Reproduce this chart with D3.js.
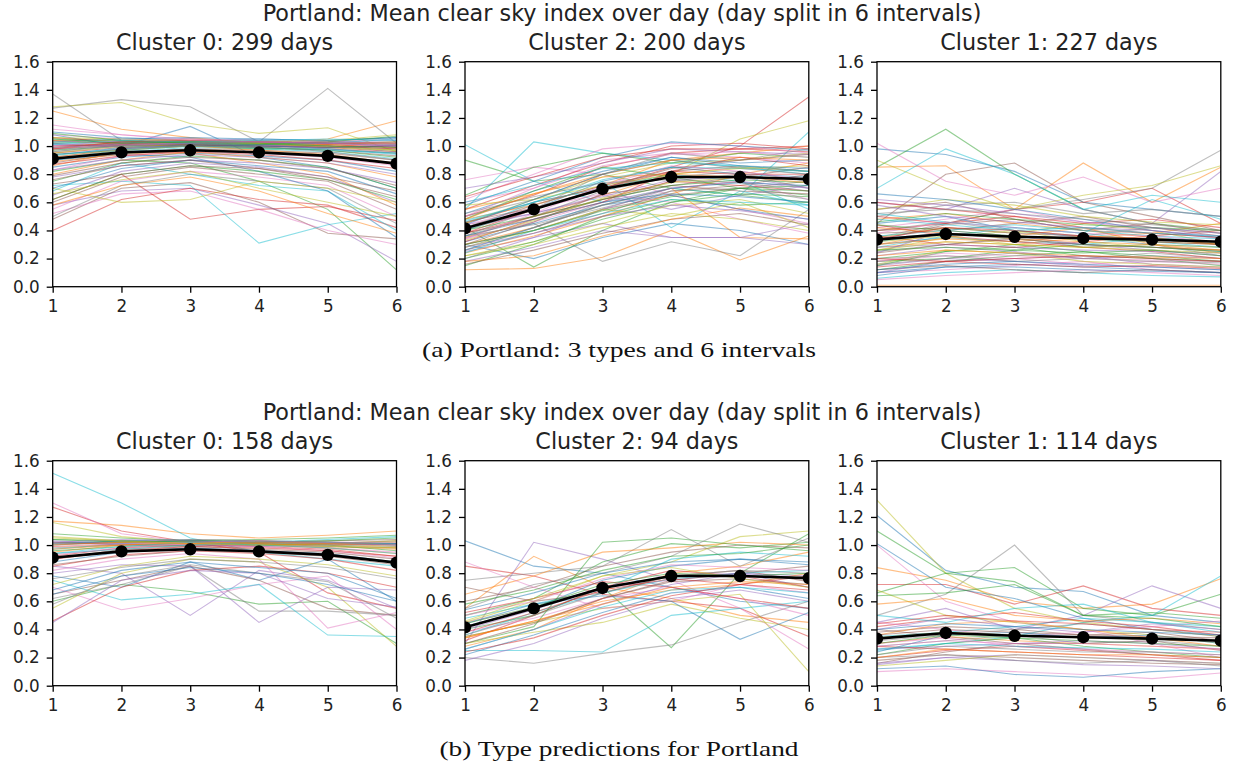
<!DOCTYPE html>
<html>
<head>
<meta charset="utf-8">
<script src="https://cdn.jsdelivr.net/npm/d3@7"></script>
<style>
  html, body { margin: 0; padding: 0; background: #fff; }
  svg { display: block; }
  .tick text { font-family: "DejaVu Sans", sans-serif; font-size: 16.8px; fill: #222; }
  .ttl { font-family: "DejaVu Sans", sans-serif; font-size: 22.3px; fill: #222; }
  .sup { font-family: "DejaVu Sans", sans-serif; font-size: 22.3px; fill: #222; }
  .cap { font-family: "Liberation Serif", "DejaVu Serif", serif; font-size: 21px; fill: #111; }
</style>
</head>
<body>
<svg id="chart" width="1236" height="766"></svg>
<script>
// ---------- data ----------
const xTicks = [1, 2, 3, 4, 5, 6];
const yTicks = [0, 0.2, 0.4, 0.6, 0.8, 1.0, 1.2, 1.4, 1.6];

const suptitle = "Portland: Mean clear sky index over day (day split in 6 intervals)";
const captions = ["(a) Portland: 3 types and 6 intervals", "(b) Type predictions for Portland"];
const titlesTop = ["Cluster 0: 299 days", "Cluster 2: 200 days", "Cluster 1: 227 days"];
const titlesBottom = ["Cluster 0: 158 days", "Cluster 2: 94 days", "Cluster 1: 114 days"];

const meanC0 = [0.91, 0.955, 0.97, 0.955, 0.93, 0.875];
const meanC2 = [0.415, 0.55, 0.695, 0.78, 0.78, 0.765];
const meanC1 = [0.335, 0.375, 0.355, 0.345, 0.335, 0.32];

// (a) Portland, cluster 0 (sample of daily profiles)
const portlandC0 = [
  [1.08,1.00,1.14,0.92,0.85,0.70],[1.25,1.12,1.06,1.02,1.05,1.18],[0.82,0.90,0.88,0.75,0.55,0.12],
  [0.62,0.80,0.48,0.55,0.57,0.47],[0.58,0.68,0.70,0.58,0.45,0.18],[0.48,0.70,0.74,0.60,0.38,0.34],
  [0.52,0.66,0.68,0.55,0.40,0.30],[1.27,1.33,1.28,1.03,1.41,1.02],[1.28,1.31,1.16,1.09,1.13,0.96],
  [0.72,0.75,0.72,0.31,0.44,0.52],[1.02,1.03,1.04,1.03,1.02,1.00],[0.98,1.01,1.02,1.02,1.01,0.99],
  [1.05,1.04,1.03,1.04,1.03,1.02],[0.95,0.99,1.01,1.00,0.99,0.96],[1.00,1.02,1.03,1.02,1.03,1.04],
  [0.92,0.98,1.00,0.99,0.97,0.93],[1.08,1.05,1.04,1.03,1.02,1.01],[1.37,1.04,1.02,1.01,1.00,0.98],
  [1.03,1.02,1.03,1.02,1.01,1.03],[0.90,0.96,0.99,0.98,0.96,0.91],[1.10,1.06,1.04,1.05,1.04,1.06],
  [0.99,1.03,1.05,1.03,1.02,1.00],[0.94,0.97,1.00,0.98,0.98,0.95],[1.06,1.03,1.02,1.00,1.01,0.99],
  [1.01,1.00,1.01,1.00,0.99,1.01],[0.88,0.95,0.98,0.97,0.95,0.90],[1.12,1.08,1.05,1.02,1.03,1.05],
  [0.96,1.01,1.03,1.01,1.00,0.97],[1.04,1.04,1.02,1.03,1.04,1.08],[0.93,0.99,1.02,1.00,0.98,0.94],
  [0.85,0.92,0.95,0.93,0.90,0.82],[0.80,0.90,0.96,0.92,0.88,0.78],[0.75,0.88,0.93,0.90,0.85,0.70],
  [0.40,0.62,0.70,0.62,0.58,0.42],[0.65,0.82,0.88,0.85,0.78,0.60],[0.60,0.78,0.85,0.80,0.75,0.55],
  [0.55,0.75,0.82,0.78,0.72,0.50],[0.50,0.72,0.80,0.75,0.70,0.45],[0.70,0.60,0.62,0.75,0.70,0.60],
  [0.68,0.88,0.80,0.72,0.68,0.40],[0.90,0.94,0.92,0.82,0.68,0.35],[0.86,0.96,0.95,0.88,0.80,0.58],
  [0.97,1.00,1.01,0.99,0.97,0.92],[1.00,1.01,1.00,0.99,1.00,0.98],[0.78,0.86,0.90,0.88,0.84,0.74],
  [1.02,0.99,1.00,1.01,1.02,1.03],[0.83,0.93,0.97,0.95,0.92,0.86],[0.99,1.02,1.04,1.02,1.00,0.96],
  [0.95,1.00,1.01,1.02,0.99,0.97],[1.01,1.03,1.02,1.01,1.02,1.05],[0.70,0.84,0.90,0.86,0.82,0.66],
  [0.92,0.97,1.00,0.97,0.94,0.88],[0.62,0.80,0.86,0.82,0.76,0.62],[1.04,1.02,1.01,1.00,0.99,1.00],
  [0.98,1.00,1.02,1.01,0.98,0.95],[0.76,0.86,0.90,0.84,0.78,0.68],
  [1.00,1.04,1.05,1.04,1.03,1.02],[0.97,1.02,1.03,1.03,1.02,1.01],[1.06,1.05,1.04,1.02,1.00,0.97],
  [0.91,0.97,1.00,0.99,0.97,0.95],[1.03,1.05,1.06,1.05,1.04,1.06],[0.89,0.94,0.97,0.96,0.93,0.87],
  [1.09,1.04,1.02,1.01,1.03,1.07],[0.98,1.03,1.04,1.03,1.02,1.02],[0.83,0.90,0.94,0.92,0.88,0.80],
  [0.73,0.80,0.86,0.84,0.76,0.64],[1.15,1.08,1.04,1.03,1.02,1.00],[0.96,1.00,1.02,1.00,0.96,0.90],
  [0.66,0.76,0.82,0.70,0.60,0.50],[1.02,1.04,1.03,1.04,1.05,1.04],[0.94,0.98,1.01,1.00,0.99,1.00],
  [0.58,0.72,0.78,0.68,0.52,0.38],[1.05,1.02,1.03,1.02,1.00,0.99],[0.87,0.93,0.96,0.94,0.90,0.84],
  [0.99,1.01,1.02,1.03,1.02,1.00],[0.79,0.88,0.92,0.90,0.84,0.72]
];
// (a) Portland, cluster 2
const portlandC2 = [
  [0.30,0.20,0.35,0.45,0.40,0.30],[0.12,0.13,0.21,0.40,0.19,0.36],[0.90,0.75,0.80,0.70,0.65,0.60],
  [0.45,0.60,0.70,0.85,1.00,1.35],[0.25,0.35,0.45,0.35,0.35,0.45],[0.30,0.40,0.55,0.65,0.70,0.75],
  [0.76,0.85,0.80,0.65,0.55,0.45],[0.35,0.45,0.18,0.32,0.22,0.55],[0.40,0.55,0.70,0.80,1.05,1.18],
  [1.01,0.75,0.60,0.70,0.65,1.10],[0.40,0.55,0.75,0.85,0.80,0.78],[0.35,0.50,0.65,0.80,0.85,0.82],
  [0.42,0.14,0.40,0.60,0.70,0.65],[0.50,0.65,0.85,0.95,0.98,0.96],[0.20,0.35,0.55,0.70,0.75,0.70],
  [0.38,0.48,0.62,0.72,0.78,0.85],[0.60,0.70,0.90,0.95,0.92,0.88],[0.28,0.42,0.60,0.75,0.80,0.70],
  [0.45,0.62,0.78,0.88,0.90,0.95],[0.55,1.03,0.95,0.90,0.85,0.80],[0.32,0.45,0.58,0.65,0.55,0.48],
  [0.48,0.58,0.72,0.90,0.95,1.00],[0.15,0.30,0.50,0.62,0.58,0.60],[0.55,0.72,0.88,1.00,1.02,0.98],
  [0.44,0.52,0.65,0.55,0.65,0.72],[0.26,0.38,0.52,0.68,0.72,0.80],[0.62,0.80,0.98,1.02,1.00,0.95],
  [0.36,0.50,0.68,0.78,0.82,0.75],[0.22,0.32,0.45,0.58,0.62,0.52],[0.46,0.60,0.75,0.42,0.68,0.58],
  [0.52,0.68,0.82,0.92,0.88,0.90],[0.30,0.42,0.58,0.70,0.35,0.34],[0.65,0.85,0.95,0.88,0.95,0.92],
  [0.38,0.50,0.62,0.75,0.72,0.68],[0.18,0.28,0.40,0.35,0.35,0.30],[0.42,0.58,0.72,0.82,0.86,0.82],
  [0.34,0.46,0.60,0.70,0.75,0.62],[0.50,0.62,0.80,0.95,0.90,0.98],[0.28,0.40,0.55,0.50,0.60,0.42],
  [0.40,0.60,0.70,0.80,0.75,0.55],[0.58,0.75,0.92,1.03,1.00,0.97],[0.24,0.36,0.50,0.66,0.80,0.88],
  [0.48,0.68,0.85,0.78,0.70,0.72],[0.32,0.48,0.60,0.82,0.92,0.86],[0.70,0.78,0.88,0.98,0.96,0.94],
  [0.16,0.26,0.38,0.48,0.52,0.44],[0.44,0.56,0.66,0.60,0.48,0.38],[0.36,0.55,0.80,0.90,0.84,0.80],
  [0.33,0.47,0.63,0.74,0.78,0.76],[0.47,0.60,0.76,0.85,0.84,0.82],[0.26,0.42,0.58,0.70,0.74,0.72],
  [0.55,0.66,0.80,0.90,0.92,0.90],[0.20,0.32,0.48,0.60,0.66,0.64],[0.38,0.55,0.70,0.82,0.80,0.80],
  [0.42,0.52,0.64,0.76,0.78,0.70],[0.30,0.46,0.66,0.72,0.68,0.66],[0.50,0.70,0.86,0.94,0.96,0.92],
  [0.36,0.44,0.56,0.68,0.70,0.62],[0.58,0.62,0.72,0.80,0.84,0.86],[0.24,0.40,0.52,0.62,0.60,0.58],
  [0.44,0.62,0.80,0.92,0.86,0.84],[0.18,0.22,0.36,0.48,0.56,0.50],[0.40,0.50,0.62,0.72,0.76,0.74],
  [0.64,0.78,0.92,0.98,0.98,1.00],[0.28,0.38,0.50,0.58,0.54,0.48],[0.46,0.56,0.70,0.84,0.90,0.94],
  [0.34,0.52,0.72,0.86,0.82,0.76],[0.52,0.64,0.74,0.76,0.74,0.68],[0.22,0.30,0.42,0.52,0.48,0.40],
  [0.60,0.72,0.84,0.88,0.86,0.82],[0.36,0.48,0.60,0.66,0.64,0.60],[0.48,0.66,0.78,0.80,0.78,0.74],
  [0.30,0.40,0.54,0.64,0.70,0.68]
];
// (a) Portland, cluster 1
const portlandC1 = [
  [0.98,0.94,0.82,0.60,0.55,0.50],[0.85,0.86,0.55,0.88,0.60,0.85],[0.85,1.12,0.80,0.55,0.45,0.40],
  [0.50,0.45,0.55,0.60,0.70,0.45],[0.60,0.55,0.70,0.55,0.45,0.82],[0.45,0.80,0.88,0.60,0.50,0.40],
  [1.02,0.75,0.65,0.78,0.60,0.70],[0.35,0.45,0.55,0.62,0.70,0.97],[0.90,0.70,0.55,0.65,0.72,0.86],
  [0.70,0.98,0.80,0.55,0.65,0.60],[0.30,0.35,0.32,0.30,0.28,0.25],[0.01,0.01,0.01,0.01,0.01,0.01],
  [0.20,0.25,0.28,0.22,0.20,0.18],[0.40,0.45,0.50,0.42,0.38,0.35],[0.15,0.20,0.18,0.15,0.14,0.12],
  [0.55,0.60,0.48,0.40,0.45,0.38],[0.10,0.12,0.15,0.18,0.12,0.10],[0.25,0.30,0.35,0.28,0.30,0.22],
  [0.35,0.42,0.38,0.45,0.40,0.30],[0.06,0.10,0.12,0.10,0.08,0.07],[0.45,0.50,0.40,0.35,0.30,0.28],
  [0.28,0.32,0.30,0.35,0.38,0.45],[0.12,0.18,0.22,0.25,0.20,0.15],[0.60,0.55,0.50,0.45,0.48,0.42],
  [0.22,0.28,0.25,0.20,0.22,0.20],[0.38,0.40,0.45,0.50,0.42,0.36],[0.18,0.22,0.20,0.16,0.18,0.16],
  [0.50,0.58,0.60,0.52,0.55,0.50],[0.26,0.35,0.40,0.32,0.28,0.26],[0.32,0.38,0.34,0.30,0.35,0.32],
  [0.08,0.14,0.16,0.14,0.12,0.10],[0.48,0.52,0.45,0.40,0.35,0.30],[0.15,0.25,0.30,0.25,0.22,0.18],
  [0.36,0.30,0.28,0.32,0.36,0.40],[0.24,0.40,0.36,0.30,0.26,0.22],[0.12,0.15,0.12,0.10,0.12,0.10],
  [0.42,0.48,0.55,0.46,0.40,0.34],[0.20,0.22,0.18,0.20,0.24,0.20],[0.55,0.62,0.58,0.50,0.46,0.44],
  [0.28,0.36,0.42,0.38,0.32,0.28],[0.66,0.62,0.55,0.48,0.40,0.35],[0.30,0.38,0.36,0.42,0.30,0.24],
  [0.18,0.20,0.26,0.30,0.28,0.25],[0.44,0.36,0.32,0.28,0.25,0.20],[0.10,0.18,0.20,0.22,0.16,0.14],
  [0.33,0.44,0.48,0.40,0.38,0.35],[0.05,0.08,0.10,0.12,0.10,0.08],[0.40,0.46,0.40,0.36,0.42,0.38],
  [0.16,0.26,0.24,0.18,0.16,0.14],[0.52,0.46,0.42,0.38,0.62,0.48],
  [0.34,0.38,0.36,0.34,0.33,0.32],[0.22,0.26,0.24,0.22,0.21,0.20],[0.46,0.52,0.48,0.44,0.42,0.40],
  [0.14,0.18,0.16,0.14,0.15,0.13],[0.28,0.30,0.28,0.26,0.25,0.24],[0.40,0.42,0.38,0.36,0.34,0.30],
  [0.18,0.24,0.22,0.20,0.19,0.18],[0.52,0.55,0.52,0.48,0.44,0.40],[0.26,0.32,0.30,0.28,0.26,0.24],
  [0.36,0.40,0.44,0.40,0.36,0.34],[0.10,0.14,0.14,0.12,0.11,0.10],[0.30,0.34,0.32,0.36,0.34,0.30],
  [0.44,0.40,0.36,0.34,0.32,0.30],[0.20,0.18,0.20,0.22,0.20,0.18],[0.58,0.50,0.46,0.42,0.40,0.36],
  [0.24,0.30,0.34,0.30,0.28,0.26],[0.38,0.46,0.42,0.38,0.36,0.32],[0.16,0.20,0.24,0.20,0.18,0.17],
  [0.32,0.36,0.30,0.28,0.30,0.28],[0.48,0.44,0.40,0.42,0.38,0.36],[0.12,0.16,0.18,0.16,0.14,0.12],
  [0.42,0.38,0.34,0.32,0.30,0.26],[0.26,0.28,0.26,0.24,0.26,0.22],[0.34,0.42,0.40,0.36,0.32,0.30],
  [0.62,0.58,0.52,0.46,0.42,0.38]
];
// (b) predictions, cluster 0
const predC0 = [
  [0.78,0.70,0.88,0.75,0.90,0.60],[1.17,1.14,1.08,1.05,1.07,1.10],[0.60,0.72,0.67,0.58,0.60,0.30],
  [1.27,1.10,1.02,0.95,0.66,0.55],[0.85,0.80,0.50,0.82,0.75,0.55],[0.65,0.75,0.85,0.75,0.55,0.50],
  [0.70,0.54,0.62,0.72,0.78,0.40],[0.62,0.72,0.85,0.53,0.53,0.50],[0.55,0.80,0.90,0.88,0.70,0.28],
  [1.51,1.30,1.05,0.95,0.90,0.85],[1.00,1.02,1.03,1.02,1.01,1.00],[0.95,1.00,1.02,1.01,0.99,0.97],
  [1.04,1.03,1.02,1.03,1.02,1.01],[0.92,0.98,1.00,0.99,0.97,0.92],[0.80,0.86,0.85,0.45,0.70,0.68],
  [1.02,1.01,1.03,1.02,1.03,1.04],[1.30,1.08,1.02,1.00,0.98,0.95],[0.98,1.00,1.01,1.00,0.99,0.98],
  [1.06,1.03,1.02,1.01,1.00,1.02],[0.75,0.61,0.65,0.72,0.36,0.35],[0.88,0.95,0.98,0.96,0.94,0.88],
  [1.01,1.02,1.04,1.03,1.01,1.00],[0.96,0.99,1.00,1.01,1.00,0.96],[0.46,0.70,0.82,0.85,0.80,0.70],
  [1.03,1.01,1.00,0.99,1.00,1.01],[0.90,0.97,0.99,0.97,0.95,0.90],[0.82,0.90,0.94,0.90,0.41,0.52],
  [1.00,1.03,1.02,1.01,1.02,1.00],[0.72,0.85,0.92,0.90,0.86,0.78],[0.97,1.01,1.03,1.02,1.00,0.99],
  [0.68,0.82,0.88,0.84,0.80,0.62],[0.99,1.00,1.01,1.00,0.98,0.94],[1.08,1.05,1.03,1.04,1.05,1.07],
  [0.85,0.93,0.96,0.94,0.90,0.82],[0.45,0.75,0.82,0.80,0.62,0.56],[1.02,1.00,0.99,1.00,1.01,1.03],
  [0.93,0.98,1.01,0.99,0.96,0.91],[0.58,0.78,0.86,0.80,0.74,0.48],[1.16,1.06,1.02,1.00,1.01,1.03],
  [0.94,0.97,1.00,1.02,1.04,1.06],
  [1.01,1.03,1.04,1.03,1.02,1.01],[0.97,1.00,1.02,1.01,1.00,0.98],[1.04,1.02,1.03,1.02,1.03,1.05],
  [0.90,0.96,0.99,0.98,0.96,0.92],[1.02,1.04,1.03,1.02,1.01,1.00],[0.86,0.92,0.96,0.95,0.92,0.86],
  [0.99,1.01,1.02,1.03,1.02,1.02],[0.76,0.84,0.90,0.88,0.84,0.76],[1.05,1.03,1.01,1.00,0.99,0.98],
  [0.94,0.99,1.02,1.00,0.98,0.94],[0.65,0.78,0.84,0.80,0.72,0.60],[1.00,1.02,1.01,1.02,1.01,0.99]
];
// (b) predictions, cluster 2
const predC2 = [
  [1.03,0.85,0.80,0.70,0.60,0.55],[0.55,0.92,0.70,0.62,0.50,0.45],[0.40,0.50,0.70,0.27,0.80,1.08],
  [0.85,0.78,0.65,0.60,0.55,0.35],[0.30,1.02,0.90,0.75,0.80,0.70],[0.35,0.45,0.62,0.75,0.80,0.85],
  [0.45,0.55,0.70,0.75,0.55,0.26],[0.20,0.16,0.23,0.29,0.45,0.60],[0.35,0.45,0.55,0.60,0.65,0.10],
  [0.25,0.25,0.24,0.50,0.55,0.60],[0.42,0.55,0.75,0.85,0.90,0.88],[0.28,0.40,0.62,0.80,0.85,0.95],
  [0.50,0.62,0.88,1.01,0.98,1.02],[0.32,0.50,0.70,0.82,0.78,0.70],[0.18,0.30,0.48,0.62,0.68,0.60],
  [0.60,0.70,0.85,0.95,1.00,0.98],[0.38,0.48,0.62,0.70,0.62,0.50],[0.75,0.80,0.85,1.11,0.85,1.05],
  [0.45,0.60,0.78,0.88,1.06,1.10],[0.48,0.58,0.68,0.90,0.95,0.92],[0.22,0.36,0.52,0.66,0.70,0.62],
  [0.65,0.78,0.95,0.98,1.02,1.00],[0.30,0.42,1.02,1.05,1.00,0.96],[0.52,0.62,0.74,0.70,0.62,0.55],
  [0.26,0.40,0.58,0.72,0.80,0.78],[0.70,0.60,0.66,0.78,0.82,0.74],[0.88,0.70,0.55,0.60,0.72,0.66],
  [0.55,0.72,0.80,0.92,1.15,1.02],[0.30,0.38,0.45,0.58,0.48,0.40],[0.36,0.52,0.66,0.76,0.80,0.82],
  [0.44,0.58,0.64,0.60,0.33,0.52],[0.34,0.46,0.60,0.68,0.72,0.80],[0.58,0.68,0.82,0.92,0.94,1.00],
  [0.24,0.34,0.50,0.64,0.72,0.78],
  [0.40,0.54,0.70,0.78,0.80,0.76],[0.30,0.44,0.62,0.74,0.76,0.72],[0.50,0.60,0.76,0.86,0.84,0.82],
  [0.36,0.50,0.66,0.78,0.82,0.80],[0.46,0.62,0.78,0.84,0.76,0.70],[0.26,0.40,0.56,0.68,0.70,0.66],
  [0.54,0.66,0.80,0.88,0.90,0.86],[0.34,0.46,0.58,0.70,0.74,0.72],[0.44,0.56,0.72,0.80,0.78,0.80],
  [0.38,0.52,0.68,0.76,0.72,0.68]
];
// (b) predictions, cluster 1
const predC1 = [
  [1.21,0.82,0.70,0.67,0.50,0.45],[0.84,0.75,0.60,0.55,0.58,0.76],[1.10,0.80,0.84,0.55,0.50,0.65],
  [0.72,0.72,0.58,0.71,0.55,0.50],[0.45,0.55,0.40,0.50,0.71,0.55],[0.40,0.35,0.30,0.30,0.32,0.25],
  [1.00,0.60,0.45,0.40,0.30,0.20],[0.50,0.65,1.00,0.50,0.45,0.40],[1.32,0.80,0.55,0.45,0.40,0.35],
  [0.25,0.30,0.35,0.45,0.50,0.78],[1.01,0.70,0.62,0.48,0.40,0.36],[0.30,0.35,0.32,0.30,0.28,0.26],
  [0.66,0.80,0.74,0.50,0.52,0.48],[0.20,0.25,0.28,0.25,0.22,0.18],[0.15,0.20,0.18,0.15,0.14,0.12],
  [0.38,0.42,0.40,0.36,0.38,0.32],[0.10,0.12,0.10,0.08,0.05,0.09],[0.28,0.32,0.36,0.30,0.32,0.28],
  [0.68,0.50,0.45,0.40,0.36,0.30],[0.35,0.38,0.42,0.48,0.45,0.38],[0.12,0.14,0.08,0.06,0.10,0.12],
  [0.58,0.62,0.50,0.46,0.48,0.44],[0.22,0.30,0.34,0.28,0.24,0.20],[0.42,0.48,0.52,0.46,0.42,0.36],
  [0.26,0.28,0.30,0.32,0.30,0.26],[0.18,0.22,0.20,0.18,0.16,0.15],[0.45,0.40,0.35,0.38,0.42,0.46],
  [0.32,0.36,0.40,0.44,0.40,0.35],[0.14,0.18,0.22,0.20,0.18,0.16],[0.50,0.45,0.55,0.58,0.45,0.42],
  [0.24,0.36,0.38,0.34,0.36,0.30],[0.36,0.44,0.46,0.40,0.34,0.28],[0.64,0.66,0.72,0.50,0.48,0.42],
  [0.28,0.26,0.24,0.22,0.20,0.18],[0.40,0.48,0.42,0.38,0.44,0.40],[0.16,0.24,0.30,0.26,0.22,0.20],
  [0.30,0.34,0.28,0.26,0.24,0.22],[0.20,0.22,0.18,0.16,0.18,0.14],
  [0.34,0.38,0.36,0.34,0.33,0.32],[0.26,0.30,0.28,0.27,0.26,0.24],[0.40,0.44,0.42,0.40,0.38,0.36],
  [0.20,0.26,0.24,0.22,0.22,0.20],[0.30,0.36,0.34,0.32,0.30,0.28],[0.44,0.50,0.46,0.44,0.40,0.38],
  [0.16,0.20,0.22,0.20,0.18,0.16],[0.36,0.40,0.38,0.36,0.35,0.34],[0.28,0.32,0.30,0.30,0.28,0.26],
  [0.22,0.28,0.26,0.24,0.24,0.22]
];

// ---------- layout ----------
const W = 1236, H = 766;
const panelX = [52.7, 465, 877];
const panelW = 343.8;
const panelH = 225;
const figTops = [61.7, 460.7];
const colors = d3.schemeCategory10;

const figures = [
  { top: figTops[0], caption: captions[0], capW: 394, titles: titlesTop,
    series: [portlandC0, portlandC2, portlandC1] },
  { top: figTops[1], caption: captions[1], capW: 359, titles: titlesBottom,
    series: [predC0, predC2, predC1] }
];
const means = [meanC0, meanC2, meanC1];

const svg = d3.select("#chart");
svg.append("rect").attr("width", W).attr("height", H).attr("fill", "#fff");
const defs = svg.append("defs");

figures.forEach((fig, fi) => {
  // suptitle
  svg.append("text").attr("class", "sup")
    .attr("x", 622).attr("y", fig.top - 40.9)
    .attr("text-anchor", "middle").text(suptitle);
  // caption
  svg.append("text").attr("class", "cap")
    .attr("x", 619).attr("y", fig.top + panelH + 70.5)
    .attr("text-anchor", "middle")
    .attr("textLength", fig.capW).attr("lengthAdjust", "spacingAndGlyphs")
    .text(fig.caption);

  fig.series.forEach((rows, pi) => {
    const x0 = panelX[pi];
    const x = d3.scaleLinear().domain([1, 6]).range([0, panelW]);
    const y = d3.scaleLinear().domain([0, 1.6]).range([panelH, 0]);
    const g = svg.append("g").attr("transform", `translate(${x0},${fig.top})`);
    const clipId = `clip-${fi}-${pi}`;
    defs.append("clipPath").attr("id", clipId)
      .append("rect").attr("width", panelW).attr("height", panelH);

    const line = d3.line().x((d, i) => x(xTicks[i])).y(d => y(d));
    const plot = g.append("g").attr("clip-path", `url(#${clipId})`);

    plot.selectAll("path.day").data(rows).join("path")
      .attr("class", "day")
      .attr("d", line)
      .attr("fill", "none")
      .attr("stroke", (d, i) => colors[i % 10])
      .attr("stroke-width", 1.1)
      .attr("stroke-opacity", 0.5);

    plot.append("path").datum(means[pi])
      .attr("d", line).attr("fill", "none")
      .attr("stroke", "#000").attr("stroke-width", 2.6);
    plot.selectAll("circle.m").data(means[pi]).join("circle")
      .attr("class", "m")
      .attr("cx", (d, i) => x(xTicks[i])).attr("cy", d => y(d))
      .attr("r", 6.2).attr("fill", "#000");

    // axes
    const ax = g.append("g").attr("transform", `translate(0,${panelH})`)
      .call(d3.axisBottom(x).tickValues(xTicks).tickFormat(d3.format("d"))
        .tickSize(6).tickPadding(7.5).tickSizeOuter(0));
    const ay = g.append("g")
      .call(d3.axisLeft(y).tickValues(yTicks).tickFormat(d3.format(".1f"))
        .tickSize(6).tickPadding(7).tickSizeOuter(0));
    [ax, ay].forEach(a => {
      a.select(".domain").remove();
      a.selectAll(".tick line").attr("stroke", "#000").attr("stroke-width", 1.3);
    });
    g.append("rect").attr("width", panelW).attr("height", panelH)
      .attr("fill", "none").attr("stroke", "#000").attr("stroke-width", 1.3);

    // panel title
    g.append("text").attr("class", "ttl")
      .attr("x", panelW / 2).attr("y", -12)
      .attr("text-anchor", "middle").text(fig.titles[pi]);
  });
});
</script>
</body>
</html>
